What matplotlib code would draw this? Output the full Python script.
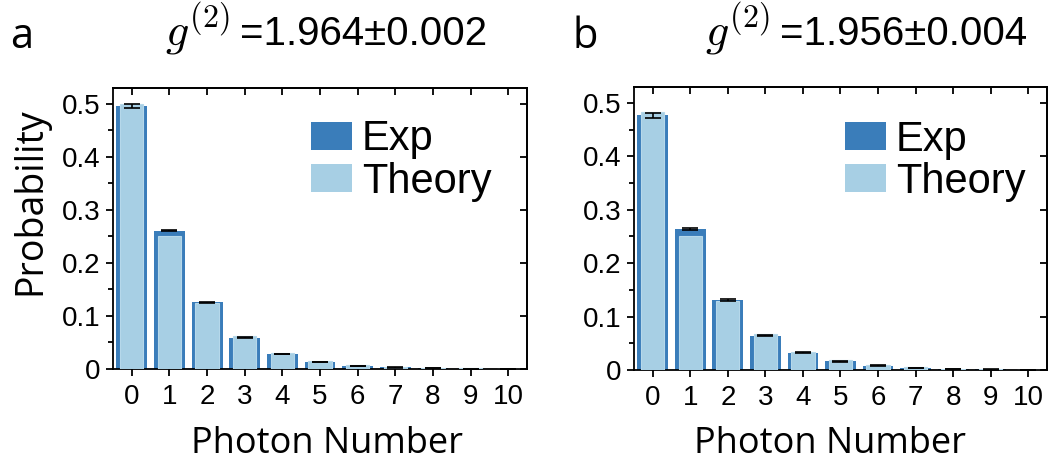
import matplotlib
matplotlib.use('Agg')
import matplotlib.pyplot as plt
from matplotlib.patches import Patch
from matplotlib.ticker import MultipleLocator
import numpy as np

plt.rcParams['font.family'] = ['Liberation Sans', 'DejaVu Sans']
plt.rcParams['mathtext.fontset'] = 'cm'

photon = np.arange(11)
xlabels = [str(k) for k in photon]

# panel a
exp_a = [0.496, 0.261, 0.126, 0.059, 0.028, 0.013, 0.006, 0.003, 0.0013, 0.0006, 0.0003]
err_a = [0.004, 0.001, 0.001, 0.0008, 0.0005, 0.0005, 0.0004, 0.0003, 0.0002, 0.0001, 0.0001]
th_a = [0.5, 0.25, 0.125, 0.0625, 0.031, 0.0156, 0.0078, 0.0039, 0.002, 0.001, 0.0005]
g2_a = '=1.964±0.002'

# panel b
exp_b = [0.477, 0.264, 0.131, 0.064, 0.032, 0.016, 0.008, 0.004, 0.002, 0.001, 0.0005]
err_b = [0.005, 0.0015, 0.001, 0.001, 0.0008, 0.0006, 0.0005, 0.0004, 0.0003, 0.0002, 0.0001]
th_b = [0.483, 0.25, 0.129, 0.0667, 0.0345, 0.0178, 0.0092, 0.0048, 0.0025, 0.0013, 0.0007]
g2_b = '=1.956±0.004'

yticks = [0, 0.1, 0.2, 0.3, 0.4, 0.5]
ylabels = ['0', '0.1', '0.2', '0.3', '0.4', '0.5']

c_exp = '#3a7dba'
c_th = '#a7cfe4'
c_th_edge = '#b6d8ea'
lab_font = ['Open Sans', 'DejaVu Sans']

fig = plt.figure(figsize=(10.51, 4.63), dpi=100)
ax1 = fig.add_axes([0.1075, 0.203, 0.394, 0.607])
ax2 = fig.add_axes([0.6032, 0.201, 0.393, 0.611])

def draw(ax, exp, err, th, leg_xy):
    ax.bar(photon, exp, width=0.82, color=c_exp, zorder=2)
    ax.bar(photon, th, width=0.62, color=c_th, edgecolor=c_th_edge, linewidth=0.8, zorder=3)
    ax.errorbar(photon, exp, yerr=err, fmt='none', ecolor='black',
                elinewidth=1.2, capsize=6, capthick=1.2, zorder=4)
    ax.set_xlim(-0.5, 10.5)
    ax.set_ylim(0, 0.53)
    ax.set_xticks(photon)
    ax.set_xticklabels(xlabels)
    ax.set_yticks(yticks)
    ax.set_yticklabels(ylabels)
    ax.yaxis.set_minor_locator(MultipleLocator(0.05))
    ax.tick_params(axis='both', which='major', labelsize=20, width=1.3, length=5,
                   direction='out', pad=4)
    ax.tick_params(axis='y', which='minor', width=1.3, length=3.5, direction='out')
    ax.tick_params(axis='x', which='major', pad=6)
    for sp in ax.spines.values():
        sp.set_linewidth(1.3)
    # mirrored ticks on top / right, pointing in
    top = ax.secondary_xaxis('top')
    top.set_xticks(photon, labels=[])
    top.tick_params(direction='in', length=5, width=1.3)
    right = ax.secondary_yaxis('right')
    right.set_yticks(yticks, labels=[])
    right.tick_params(direction='in', length=5, width=1.3)
    for s in (top, right):
        for sp in s.spines.values():
            sp.set_linewidth(1.3)
    handles = [Patch(facecolor=c_exp), Patch(facecolor=c_th)]
    ax.legend(handles, ['Exp', 'Theory'], loc='center left', bbox_to_anchor=leg_xy,
              frameon=False, fontsize=30, handlelength=0.98, handleheight=0.67,
              handletextpad=0.24, labelspacing=0.05, borderpad=0, borderaxespad=0)

draw(ax1, exp_a, err_a, th_a, (0.478, 0.742))
draw(ax2, exp_b, err_b, th_b, (0.511, 0.739))

# titles: g^(2) in math, then "=value" in the sans font
W = 1051.0
for x_split, val in ((238, g2_a), (778, g2_b)):
    fig.text((x_split - 8) / W, 0.902, r'$g^{(2)}$', fontsize=33, ha='right', va='baseline')
    fig.text((x_split + 2) / W, 0.902, val, fontsize=29, ha='left', va='baseline')

fig.text(0.010, 0.896, 'a', fontsize=30, family=lab_font, ha='left', va='baseline')
fig.text(0.545, 0.896, 'b', fontsize=30, family=lab_font, ha='left', va='baseline')

fig.text(0.0285, 0.566, 'Probability', fontsize=27, family=lab_font,
         rotation=90, ha='center', va='center')
fig.text(0.311, 0.022, 'Photon Number', fontsize=26, family=lab_font,
         ha='center', va='baseline')
fig.text(0.790, 0.022, 'Photon Number', fontsize=26, family=lab_font,
         ha='center', va='baseline')

fig.savefig('out.png', dpi=100)
